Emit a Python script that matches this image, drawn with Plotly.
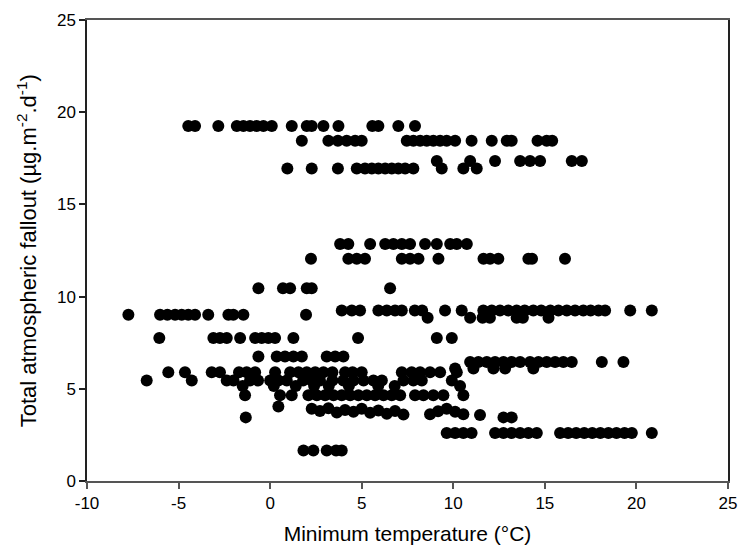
import plotly.graph_objects as go

# Each band: a fallout level (µg.m-2.d-1) and the minimum temperatures (°C) read at that level
lvl_a = 19.25
tmp_a = [-4.47, -4.1, -2.83, -1.82, -1.46, -1.1, -0.73, -0.37, 0.09, 1.18, 2.0, 2.27, 2.91, 3.73, 5.58, 5.91, 7.0, 7.91]
lvl_b = 18.45
tmp_b = [1.73, 3.18, 3.7, 4.18, 4.64, 5.0, 7.46, 7.82, 8.19, 8.55, 8.91, 9.28, 9.64, 10.1, 11.0, 12.1, 12.92, 13.19, 14.6, 15.1, 15.4]
lvl_c = 17.35
tmp_c = [9.1, 10.92, 12.28, 13.65, 14.19, 14.74, 16.47, 17.02]
lvl_d = 16.95
tmp_d = [0.94, 2.27, 3.7, 4.73, 5.18, 5.55, 5.91, 6.28, 6.64, 7.0, 7.37, 7.82, 9.37, 10.55, 11.28]
lvl_e = 12.85
tmp_e = [3.82, 4.27, 5.46, 6.28, 6.73, 7.19, 7.64, 8.46, 9.1, 9.83, 10.19, 10.74]
lvl_f = 12.05
tmp_f = [2.23, 4.27, 4.73, 5.18, 7.19, 7.64, 8.1, 9.19, 11.65, 12.01, 12.46, 14.1, 14.3, 16.1]
lvl_g = 10.45
tmp_g = [-0.64, 0.7, 1.09, 2.0, 2.27, 6.55]
lvl_h = 9.02
tmp_h = [-7.74, -6.01, -5.61, -5.19, -4.83, -4.47, -4.1, -3.38, -2.28, -2.01, -1.46, 1.96]
lvl_i = 9.25
tmp_i = [3.91, 4.46, 4.91, 5.91, 6.37, 6.82, 7.19, 7.9, 8.3, 9.55, 10.46, 11.64, 12.1, 12.55, 13.0, 13.46,
         13.9, 14.37, 14.8, 15.3, 15.74, 16.2, 16.65, 17.1, 17.5, 17.93, 18.29, 19.66, 20.84]
lvl_j = 8.85
tmp_j = [8.6, 10.92, 11.6, 12.0, 13.46, 13.8, 15.2]
lvl_k = 7.75
tmp_k = [-6.05, -3.1, -2.74, -2.37, -1.64, -0.82, -0.46, -0.1, 0.27, 1.27, 4.8, 9.1, 9.92]
lvl_l = 6.75
tmp_l = [-0.64, 0.36, 0.81, 1.27, 1.73, 3.09, 3.55, 4.0]
lvl_m = 6.45
tmp_m = [10.92, 11.37, 11.83, 12.28, 12.74, 13.19, 13.65, 14.19, 14.65, 15.1, 15.56, 16.01, 16.47, 18.11, 19.29]
lvl_n = 6.1
tmp_n = [10.1, 11.1, 12.19, 12.83, 14.37]
lvl_o = 5.9
tmp_o = [-5.56, -4.65, -3.19, -2.74, -1.7, -1.28, -0.82, 0.27, 1.09, 1.55, 2.0, 2.46, 2.91, 3.4, 4.09, 4.5,
         5.0, 7.19, 7.73, 8.19, 8.73, 9.28, 10.19]
lvl_p = 5.45
tmp_p = [-6.74, -4.28, -2.37, -2.0, -1.1, -0.66, 0.0, 0.45, 0.91, 1.8, 2.27, 2.72, 3.4, 4.0, 4.55, 5.1,
         5.64, 6.1, 7.28, 7.82, 8.28, 9.92]
lvl_q = 5.15
tmp_q = [-1.5, 0.2, 1.4, 2.4, 3.2, 4.3, 5.9, 6.8, 10.37]
lvl_r = 4.65
tmp_r = [-1.37, 0.54, 1.18, 2.09, 2.55, 3.0, 3.46, 3.91, 4.37, 4.82, 5.28, 5.73, 6.19, 6.64, 7.1, 7.91,
         8.37, 8.91, 9.46, 10.55]
# band around 3.5-4.0 is wavy, so its fallout values are listed one by one
tmp_s = [0.45, 2.27, 2.72, 3.18, 3.64, 4.09, 4.55, 5.0, 5.46, 5.91, 6.37, 6.82, 7.28, 8.73, 9.17, 9.64,
         10.1, 10.55, 11.46]
fall_s = [4.04, 3.92, 3.8, 3.95, 3.72, 3.85, 3.75, 3.92, 3.7, 3.82, 3.65, 3.8, 3.6, 3.62, 3.78, 3.92,
          3.75, 3.62, 3.58]
lvl_t = 3.45
tmp_t = [-1.33, 12.74, 13.19]
lvl_u = 2.6
tmp_u = [9.64, 10.1, 10.55, 11.0, 12.28, 12.74, 13.19, 13.65, 14.1, 14.56, 15.83, 16.27, 16.71, 17.15,
         17.59, 18.03, 18.47, 18.91, 19.35, 19.75, 20.84]
lvl_v = 1.65
tmp_v = [1.82, 2.36, 3.09, 3.6, 3.91]

bands = [
    (lvl_a, tmp_a), (lvl_b, tmp_b), (lvl_c, tmp_c), (lvl_d, tmp_d), (lvl_e, tmp_e), (lvl_f, tmp_f),
    (lvl_g, tmp_g), (lvl_h, tmp_h), (lvl_i, tmp_i), (lvl_j, tmp_j), (lvl_k, tmp_k), (lvl_l, tmp_l),
    (lvl_m, tmp_m), (lvl_n, tmp_n), (lvl_o, tmp_o), (lvl_p, tmp_p), (lvl_q, tmp_q), (lvl_r, tmp_r),
    (lvl_t, tmp_t), (lvl_u, tmp_u), (lvl_v, tmp_v),
]

xs, ys = list(tmp_s), list(fall_s)
for lvl, temps in bands:
    xs.extend(temps)
    ys.extend([lvl] * len(temps))

x_ticks = [-10, -5, 0, 5, 10, 15, 20, 25]
y_ticks = [0, 5, 10, 15, 20, 25]

fig = go.Figure(go.Scatter(
    x=xs, y=ys, mode="markers",
    marker=dict(color="black", size=12, line=dict(width=0)),
    showlegend=False,
))

font_family = "Liberation Sans, Arial, sans-serif"
fig.update_layout(
    width=740, height=555,
    autosize=False,
    margin=dict(l=87, r=12, t=20, b=74, autoexpand=False),
    paper_bgcolor="white", plot_bgcolor="white",
    font=dict(family=font_family, color="black"),
    xaxis=dict(
        range=[-10, 25], tickvals=x_ticks, ticktext=[str(v) for v in x_ticks],
        showgrid=False, zeroline=False, showline=True, linecolor="#555", linewidth=1.5, mirror=True,
        ticks="outside", ticklen=6, tickcolor="#555", tickwidth=1.5, automargin=False,
        tickfont=dict(size=17),
        title=dict(text="Minimum temperature (°C)", font=dict(size=21), standoff=14),
    ),
    yaxis=dict(
        range=[0, 25], tickvals=y_ticks, ticktext=[str(v) for v in y_ticks],
        showgrid=False, zeroline=False, showline=True, linecolor="#222", linewidth=1.5, mirror=True,
        ticks="outside", ticklen=6, tickcolor="#222", tickwidth=1.5, automargin=False,
        tickfont=dict(size=17),
    ),
    annotations=[dict(
        text="Total atmospheric fallout (µg.m<sup>-2</sup>.d<sup>-1</sup>)",
        xref="paper", yref="paper", x=-0.094, y=0.5, xanchor="center", yanchor="middle",
        textangle=-90, showarrow=False, font=dict(size=22),
    )],
)

fig.write_html(
    "out.html",
    config={"displayModeBar": False},
    post_script="document.body.style.margin='0px';document.body.style.overflow='hidden';",
)
